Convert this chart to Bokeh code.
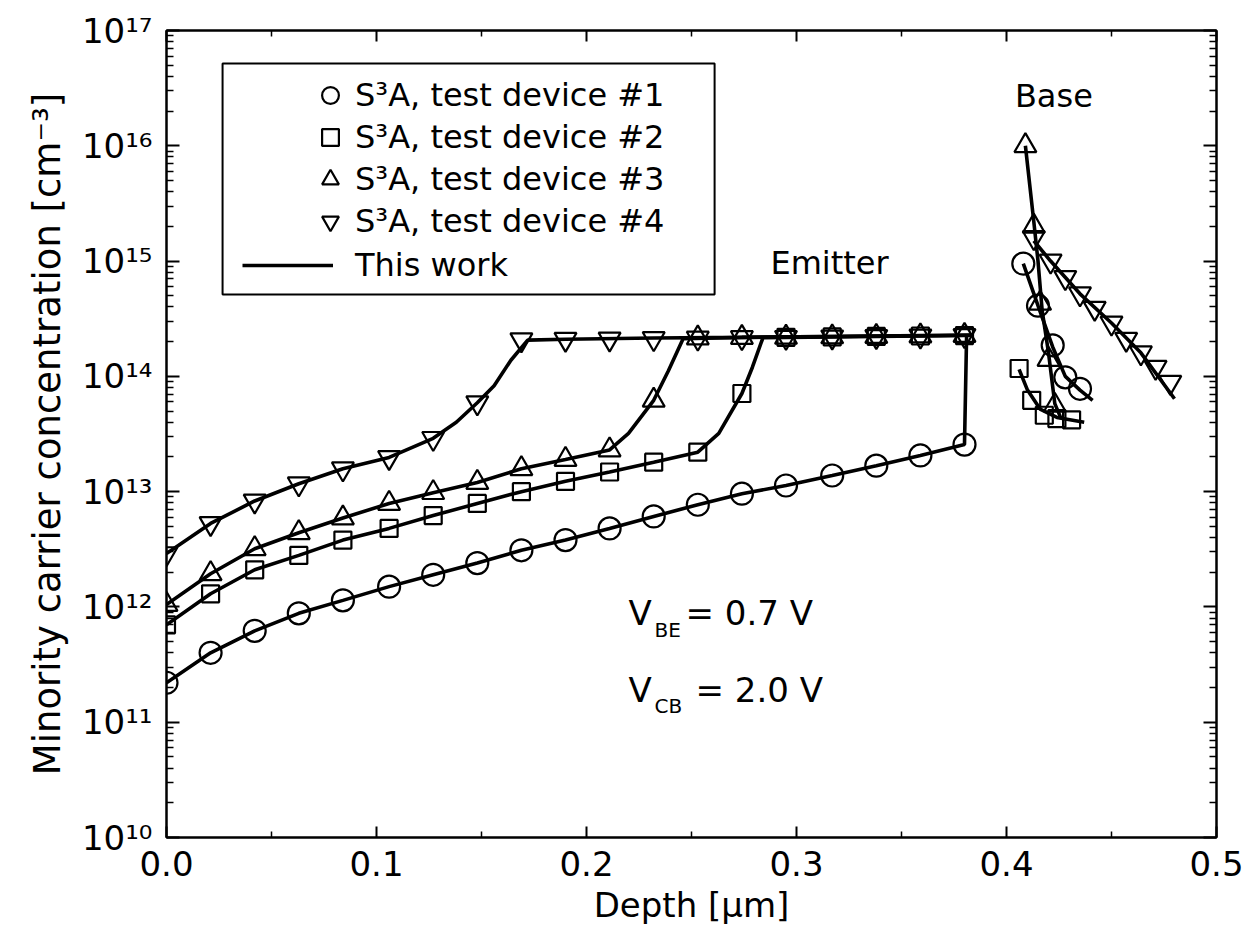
from bokeh.plotting import figure
from bokeh.models import (LinearAxis, LogAxis, FixedTicker, CustomJSTickFormatter,
                          PrintfTickFormatter, Legend, LegendItem, Label, BoxAnnotation, Range1d)
from bokeh.embed import file_html
from bokeh.resources import INLINE

FONT = "DejaVu Sans"

# ---------------- data ----------------
# Emitter depths of the measured (S3A) points [um]
depth_em = [0.0, 0.021, 0.042, 0.063, 0.084, 0.106, 0.127, 0.148, 0.169, 0.190,
            0.211, 0.232, 0.253, 0.274, 0.295, 0.317, 0.338, 0.359, 0.380]

dev1_em = [2.2e11, 4.0e11, 6.2e11, 8.8e11, 1.14e12, 1.5e12, 1.9e12, 2.4e12, 3.1e12, 3.8e12,
           4.8e12, 6.1e12, 7.7e12, 9.6e12, 1.13e13, 1.38e13, 1.68e13, 2.06e13, 2.56e13]
dev2_em = [7.0e11, 1.3e12, 2.1e12, 2.8e12, 3.8e12, 4.8e12, 6.2e12, 7.9e12, 1.0e13, 1.23e13,
           1.48e13, 1.8e13, 2.2e13, 7.1e13, 2.18e14, 2.2e14, 2.22e14, 2.24e14, 2.26e14]
dev3_em = [1.05e12, 1.94e12, 3.2e12, 4.4e12, 5.9e12, 7.9e12, 9.8e12, 1.2e13, 1.58e13, 1.9e13,
           2.3e13, 6.2e13, 2.15e14, 2.17e14, 2.18e14, 2.2e14, 2.22e14, 2.24e14, 2.26e14]
dev4_em = [2.9e12, 5.3e12, 8.3e12, 1.17e13, 1.58e13, 1.98e13, 2.9e13, 5.9e13, 2.08e14, 2.1e14,
           2.11e14, 2.13e14, 2.15e14, 2.17e14, 2.18e14, 2.2e14, 2.22e14, 2.24e14, 2.26e14]

# Base region measured points
base1_x = [0.408, 0.415, 0.422, 0.428, 0.435]
base1_y = [9.5e14, 4.1e14, 1.86e14, 9.8e13, 7.8e13]
base2_x = [0.406, 0.412, 0.418, 0.424, 0.431]
base2_y = [1.17e14, 6.2e13, 4.6e13, 4.3e13, 4.2e13]
base3_x = [0.409, 0.413, 0.416, 0.420, 0.423]
base3_y = [1.0e16, 2.0e15, 4.3e14, 1.4e14, 5.6e13]
base4_x = [0.413, 0.421, 0.428, 0.435, 0.442, 0.450, 0.457, 0.464, 0.471, 0.478]
base4_y = [1.6e15, 1.0e15, 7.2e14, 5.2e14, 3.9e14, 2.9e14, 2.1e14, 1.6e14, 1.2e14, 8.9e13]

# "This work" model curves
line1_x = [0.0, 0.021, 0.042, 0.063, 0.084, 0.106, 0.127, 0.148, 0.169, 0.190,
           0.211, 0.232, 0.253, 0.274, 0.295, 0.317, 0.338, 0.359, 0.380, 0.381]
line1_y = [2.2e11, 4.0e11, 6.2e11, 8.8e11, 1.14e12, 1.5e12, 1.9e12, 2.4e12, 3.1e12, 3.8e12,
           4.8e12, 6.1e12, 7.7e12, 9.6e12, 1.13e13, 1.38e13, 1.68e13, 2.06e13, 2.56e13, 2.26e14]
line2_x = [0.0, 0.021, 0.042, 0.063, 0.084, 0.106, 0.127, 0.148, 0.169, 0.190,
           0.211, 0.232, 0.253, 0.263, 0.274, 0.279, 0.284, 0.317, 0.359, 0.384]
line2_y = [7.0e11, 1.3e12, 2.1e12, 2.8e12, 3.8e12, 4.8e12, 6.2e12, 7.9e12, 1.0e13, 1.23e13,
           1.48e13, 1.8e13, 2.2e13, 3.2e13, 7.1e13, 1.2e14, 2.16e14, 2.2e14, 2.24e14, 2.27e14]
line3_x = [0.0, 0.021, 0.042, 0.063, 0.084, 0.106, 0.127, 0.148, 0.169, 0.190,
           0.211, 0.220, 0.232, 0.239, 0.246, 0.274, 0.317, 0.359, 0.384]
line3_y = [1.05e12, 1.94e12, 3.2e12, 4.4e12, 5.9e12, 7.9e12, 9.8e12, 1.2e13, 1.58e13, 1.9e13,
           2.3e13, 3.2e13, 6.2e13, 1.12e14, 2.12e14, 2.18e14, 2.22e14, 2.25e14, 2.27e14]
line4_x = [0.0, 0.021, 0.042, 0.063, 0.084, 0.106, 0.127, 0.138, 0.148, 0.156,
           0.164, 0.172, 0.190, 0.232, 0.274, 0.317, 0.359, 0.384]
line4_y = [2.9e12, 5.3e12, 8.3e12, 1.17e13, 1.58e13, 1.98e13, 2.9e13, 4.0e13, 5.9e13, 8.3e13,
           1.38e14, 2.06e14, 2.1e14, 2.15e14, 2.18e14, 2.22e14, 2.26e14, 2.27e14]

lb1_x = [0.408, 0.415, 0.422, 0.428, 0.435, 0.441]
lb1_y = [9.5e14, 4.1e14, 1.8e14, 1.0e14, 7.6e13, 6.2e13]
lb2_x = [0.406, 0.410, 0.416, 0.424, 0.437]
lb2_y = [1.15e14, 7.6e13, 5.2e13, 4.4e13, 4.0e13]
lb3_x = [0.409, 0.413, 0.415, 0.417, 0.420, 0.423, 0.426]
lb3_y = [1.0e16, 2.2e15, 1.0e15, 3.7e14, 1.6e14, 5.8e13, 4.3e13]
lb4_x = [0.413, 0.421, 0.435, 0.450, 0.464, 0.480]
lb4_y = [1.5e15, 1.0e15, 5.2e14, 2.9e14, 1.6e14, 6.4e13]

x_ticks = [0.0, 0.1, 0.2, 0.3, 0.4, 0.5]
x_minor = [0.05, 0.15, 0.25, 0.35, 0.45]
y_ticks = [1e10, 1e11, 1e12, 1e13, 1e14, 1e15, 1e16, 1e17]
y_minor = [m * 10.0 ** e for e in range(10, 17) for m in range(2, 10)]

legend_labels = ["S\u00b3A, test device #1", "S\u00b3A, test device #2",
                 "S\u00b3A, test device #3", "S\u00b3A, test device #4", "This work"]

# ---------------- figure ----------------
p = figure(width=1254, height=934, y_axis_type="log",
           x_range=Range1d(0.0, 0.5), y_range=Range1d(1e10, 1e17),
           output_backend="svg", toolbar_location=None,
           min_border_left=166, min_border_right=38, min_border_top=30, min_border_bottom=97,
           background_fill_color="white", border_fill_color="white")
p.xgrid.visible = False
p.ygrid.visible = False
p.outline_line_color = "black"
p.outline_line_width = 2

LW = 3.6
MLW = 2.2
# model lines
l1 = p.line(line1_x, line1_y, line_color="black", line_width=LW)
p.line(line2_x, line2_y, line_color="black", line_width=LW)
p.line(line3_x, line3_y, line_color="black", line_width=LW)
p.line(line4_x, line4_y, line_color="black", line_width=LW)
p.line(lb1_x, lb1_y, line_color="black", line_width=LW)
p.line(lb2_x, lb2_y, line_color="black", line_width=LW)
p.line(lb3_x, lb3_y, line_color="black", line_width=LW)
p.line(lb4_x, lb4_y, line_color="black", line_width=LW)

# measured markers
r1 = p.scatter(depth_em + base1_x, dev1_em + base1_y, marker="circle", size=22,
               fill_color=None, line_color="black", line_width=MLW)
r2 = p.scatter(depth_em + base2_x, dev2_em + base2_y, marker="square", size=17,
               fill_color=None, line_color="black", line_width=MLW)
r3 = p.scatter(depth_em + base3_x, dev3_em + base3_y, marker="triangle", size=22,
               fill_color=None, line_color="black", line_width=MLW)
r4 = p.scatter(depth_em + base4_x, dev4_em + base4_y, marker="inverted_triangle", size=22,
               fill_color=None, line_color="black", line_width=MLW)

# ---------------- axes ----------------
def style_axis(ax):
    ax.axis_line_color = "black"
    ax.axis_line_width = 2
    ax.major_tick_line_color = "black"
    ax.minor_tick_line_color = "black"
    ax.major_tick_line_width = 2
    ax.minor_tick_line_width = 1.5
    ax.major_tick_out = 0
    ax.minor_tick_out = 0
    ax.major_label_text_font = FONT
    ax.major_label_text_font_size = "34px"
    ax.major_label_text_color = "black"
    ax.axis_label_text_font = FONT
    ax.axis_label_text_font_size = "34px"
    ax.axis_label_text_font_style = "normal"
    ax.axis_label_text_color = "black"

blank = CustomJSTickFormatter(code="return '';")
sup_fmt = CustomJSTickFormatter(code="""
const sup = {"0":"\u2070","1":"\u00b9","2":"\u00b2","3":"\u00b3","4":"\u2074",
             "5":"\u2075","6":"\u2076","7":"\u2077","8":"\u2078","9":"\u2079","-":"\u207b"};
const e = Math.round(Math.log10(tick));
return "10" + String(e).split("").map(c => sup[c]).join("");
""")

xa = p.xaxis[0]
style_axis(xa)
xa.ticker = FixedTicker(ticks=x_ticks, minor_ticks=x_minor)
xa.formatter = PrintfTickFormatter(format="%.1f")
xa.major_tick_in = 11
xa.minor_tick_in = 6
xa.major_label_standoff = 13
xa.axis_label = "Depth [\u00b5m]"
xa.axis_label_standoff = 6

ya = p.yaxis[0]
style_axis(ya)
ya.ticker = FixedTicker(ticks=y_ticks, minor_ticks=y_minor)
ya.formatter = sup_fmt
ya.major_tick_in = 13
ya.minor_tick_in = 7
ya.major_label_standoff = 14
ya.axis_label = "Minority carrier concentration [cm\u207b\u00b3]"
ya.axis_label_text_font_size = "37px"
ya.axis_label_standoff = 10

top = LinearAxis(ticker=FixedTicker(ticks=x_ticks, minor_ticks=x_minor), formatter=blank)
style_axis(top)
top.major_tick_in = 11
top.minor_tick_in = 6
top.major_label_standoff = 0
p.add_layout(top, "above")

right = LogAxis(ticker=FixedTicker(ticks=y_ticks, minor_ticks=y_minor), formatter=blank)
style_axis(right)
right.major_tick_in = 13
right.minor_tick_in = 7
right.major_label_standoff = 0
p.add_layout(right, "right")

# ---------------- legend ----------------
frame_box = BoxAnnotation(left=0.0267, right=0.261, bottom=10 ** 14.709, top=10 ** 16.713,
                          fill_color="white", fill_alpha=1.0,
                          line_color="black", line_width=2, line_alpha=1.0)
p.add_layout(frame_box)

leg_m = Legend(items=[LegendItem(label=legend_labels[0], renderers=[r1]),
                      LegendItem(label=legend_labels[1], renderers=[r2]),
                      LegendItem(label=legend_labels[2], renderers=[r3]),
                      LegendItem(label=legend_labels[3], renderers=[r4])],
               location=(143, 595), glyph_width=42, glyph_height=42, label_height=42,
               label_standoff=4, spacing=0, padding=0, margin=0,
               border_line_color=None, background_fill_alpha=0,
               label_text_font=FONT, label_text_font_size="32px", label_text_color="black")
p.add_layout(leg_m)

leg_l = Legend(items=[LegendItem(label=legend_labels[4], renderers=[l1])],
               location=(76, 551), glyph_width=91, glyph_height=42, label_height=42,
               label_standoff=22, spacing=0, padding=0, margin=0,
               border_line_color=None, background_fill_alpha=0,
               label_text_font=FONT, label_text_font_size="32px", label_text_color="black")
p.add_layout(leg_l)

# ---------------- annotations ----------------
def lab(x, y, text, size, dx=0, dy=0):
    p.add_layout(Label(x=x, y=y, text=text, x_offset=dx, y_offset=dy,
                       text_font=FONT, text_font_size=size, text_color="black",
                       text_baseline="alphabetic", text_align="left"))

lab(0.2876, 9.7e14, "Emitter", "32px")
lab(0.404, 2.72e16, "Base", "32px")
lab(0.22, 8.9e11, "V", "34px")
lab(0.22, 8.9e11, "BE", "20px", dx=26, dy=-17)
lab(0.22, 8.9e11, "= 0.7 V", "34px", dx=57)
lab(0.22, 1.92e11, "V", "34px")
lab(0.22, 1.92e11, "CB", "20px", dx=26, dy=-16)
lab(0.22, 1.92e11, "= 2.0 V", "34px", dx=67)

open("out.html", "w").write(file_html(p, INLINE))
